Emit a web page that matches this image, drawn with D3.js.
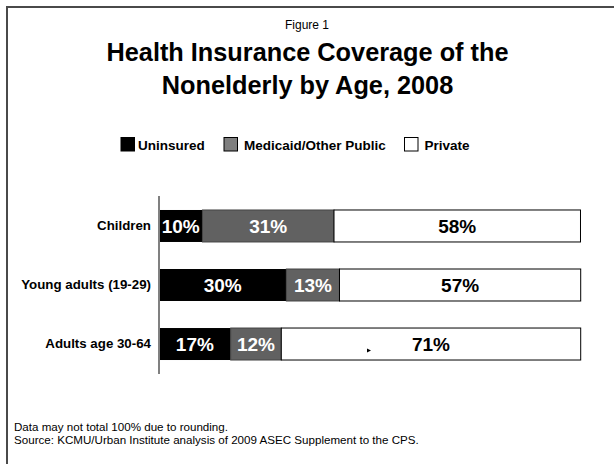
<!DOCTYPE html>
<html><head><meta charset="utf-8">
<script src="https://cdn.jsdelivr.net/npm/d3@7"></script>
<style>body{margin:0;background:#fff}svg{display:block;font-family:Arial,"Liberation Sans",sans-serif}</style>
</head><body><svg id="c" width="614" height="464"></svg>
<script>
const categories = ["Children", "Young adults (19-29)", "Adults age 30-64"];
const seriesNames = ["Uninsured", "Medicaid/Other Public", "Private"];
const uninsured = [10.3, 30.2, 17];
const medicaid = [31.2, 12.6, 12];
const privateIns = [58.45, 57.2, 71];
const seriesColors = ["#000000", "#616161", "#ffffff"];
const legendColors = ["#000000", "#7f7f7f", "#ffffff"];
const labelColors = ["#ffffff", "#ffffff", "#000000"];

const svg = d3.select("#c");
// frame
svg.append("path").attr("d","M7,464V7H614").attr("fill","none").attr("stroke","#4a4a4a").attr("stroke-width",2);

svg.append("text").attr("x",307).attr("y",29).attr("text-anchor","middle").attr("font-size",12).text("Figure 1");
const title = svg.append("text").attr("text-anchor","middle").attr("font-weight","bold").attr("font-size",25.3);
title.append("tspan").attr("x",307.5).attr("y",61).text("Health Insurance Coverage of the");
title.append("tspan").attr("x",307.5).attr("y",94).text("Nonelderly by Age, 2008");

// legend
const legendX = [121, 224, 404.5];
const lg = svg.append("g");
seriesNames.forEach((s,i)=>{
  lg.append("rect").attr("x",legendX[i]).attr("y",137.5).attr("width",13.5).attr("height",13.5)
    .attr("fill",legendColors[i]).attr("stroke","#000").attr("stroke-width",1);
  lg.append("text").attr("x",legendX[i] + (i===0?17:20)).attr("y",149.5).attr("font-weight","bold").attr("font-size",13.5).text(s);
});

const x = d3.scaleLinear().domain([0,100]).range([159,580.7]);
const y = d3.scaleBand().domain(categories).range([196,374]).paddingInner(0.458).paddingOuter(0.237);

const data = categories.map((c,i)=>({cat:c, Uninsured:uninsured[i], "Medicaid/Other Public":medicaid[i], Private:privateIns[i]}));
const stack = d3.stack().keys(seriesNames)(data);

stack.forEach((layer,k)=>{
  const g = svg.append("g");
  g.selectAll("rect").data(layer).join("rect")
    .attr("x",d=>x(d[0])).attr("y",d=>y(d.data.cat))
    .attr("width",d=>x(d[1])-x(d[0])).attr("height",y.bandwidth())
    .attr("fill",seriesColors[k])
    .attr("stroke", k===2 ? "#000" : (k===1 ? "#444" : "none"))
    .attr("stroke-width",1);
  g.selectAll("text").data(layer).join("text")
    .attr("x",d=>(x(d[0])+x(d[1]))/2).attr("y",d=>y(d.data.cat)+y.bandwidth()/2+7)
    .attr("text-anchor","middle").attr("font-weight","bold").attr("font-size",19)
    .attr("fill",labelColors[k])
    .text(d=>d3.format(".0f")(d[1]-d[0])+"%");
});

// category axis
const ax = svg.append("g").attr("transform","translate(159,0)")
  .call(d3.axisLeft(y).tickSize(0).tickPadding(8));
ax.select(".domain").attr("stroke","#808080").attr("stroke-width",2).attr("d","M0,196V374");
ax.selectAll("text").attr("font-family","Arial, 'Liberation Sans', sans-serif").attr("font-weight","bold").attr("font-size",13.3).attr("fill","#000");

// stray marker
svg.append("path").attr("d","M367,348.5L371,350.5L367,352.5Z").attr("fill","#000");

const notes = ["Data may not total 100% due to rounding.","Source: KCMU/Urban Institute analysis of 2009 ASEC Supplement to the CPS."];
notes.forEach((n,i)=>svg.append("text").attr("x",14).attr("y",431+i*12.5).attr("font-size",11.6).text(n));
</script></body></html>
